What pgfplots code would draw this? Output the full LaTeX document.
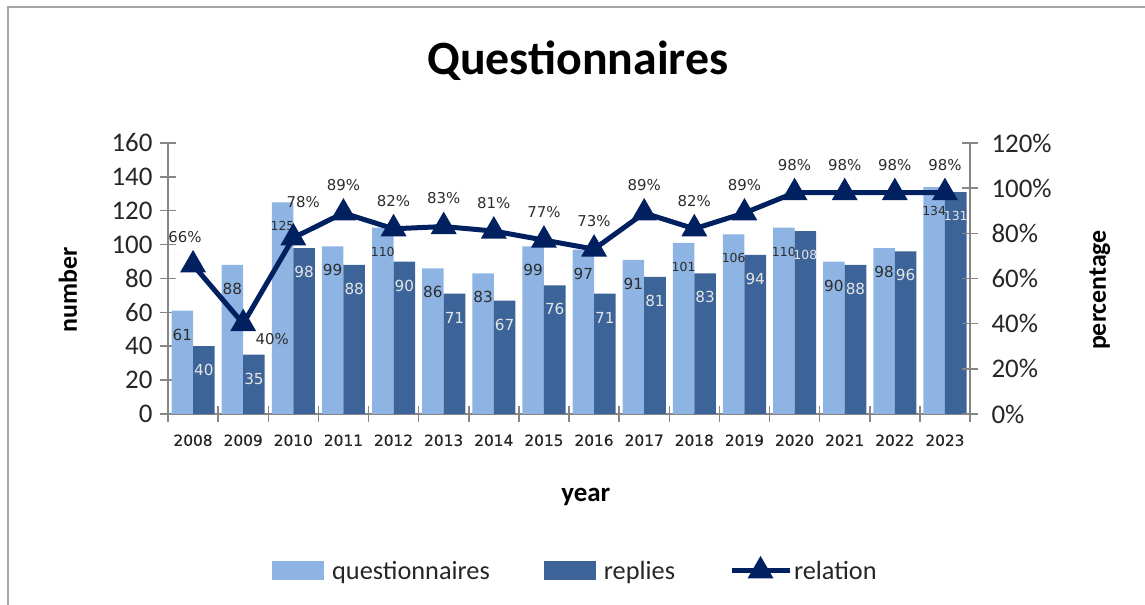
\documentclass[border=0pt]{standalone}
\usepackage{fontspec}
\setmainfont{Carlito}
\newfontfamily\dejavu{DejaVu Sans}
\newfontfamily\dejavuticks[FakeBold=0.5]{DejaVu Sans}
\usepackage{pgfplots}
\usepackage{pgfplotstable}
\pgfplotsset{compat=1.18}

\definecolor{lightbar}{RGB}{142,180,227}
\definecolor{darkbar}{RGB}{60,100,152}
\definecolor{navy}{RGB}{0,32,96}
\definecolor{axisgray}{RGB}{134,134,134}
\definecolor{txt}{RGB}{38,38,38}
\definecolor{lbl}{RGB}{45,45,45}

\pgfplotstableread{
x q r p
0 61 40 66
1 88 35 40
2 125 98 78
3 99 88 89
4 110 90 82
5 86 71 83
6 83 67 81
7 99 76 77
8 97 71 73
9 91 81 89
10 101 83 82
11 106 94 89
12 110 108 98
13 90 88 98
14 98 96 98
15 134 131 98
}\data

\newcommand{\barlabel}[1]{\dejavu\ifdim#1pt<99.5pt\fontsize{15.3}{16}\selectfont\else\fontsize{12.5}{13}\selectfont\fi\pgfmathprintnumber[fixed,precision=0]{#1}}

\begin{document}
\begin{tikzpicture}[x=1bp,y=1bp]
\useasboundingbox (0,0) rectangle (1145,605);
\draw[black!35, line width=1.5bp] (8,0) -- (8,598) -- (1145,598);

\begin{axis}[
  at={(168bp,191bp)}, anchor=south west,
  scale only axis, width=802bp, height=271bp,
  xmin=-0.5, xmax=15.5, ymin=0, ymax=160,
  ytick={0,20,...,160},
  xtick={0,...,15},
  xticklabels={2008,2009,2010,2011,2012,2013,2014,2015,2016,2017,2018,2019,2020,2021,2022,2023},
  minor xtick={-0.5,0.5,...,15.5},
  axis x line*=bottom, axis y line*=left,
  axis line style={axisgray, line width=1.5bp, -},
  tick align=center, major tick length=16bp, minor tick length=16bp,
  every major x tick/.append style={draw=none},
  every minor x tick/.append style={axisgray, line width=1.5bp},
  every major y tick/.append style={axisgray, line width=1.5bp},
  /pgf/number format/assume math mode=true,
  yticklabel style={font=\fontsize{27}{27}\selectfont, text=txt, xshift=-4bp},
  xticklabel style={font=\dejavuticks\fontsize{15.4}{16}\selectfont, text=txt, yshift=-9bp},
  title={Questionnaires},
  title style={font=\bfseries\fontsize{48}{50}\selectfont, at={(axis description cs:0.511,1.28)}, anchor=center},
  xlabel={year},
  xlabel style={font=\bfseries\fontsize{27}{28}\selectfont, at={(axis description cs:0.521,-0.306)}, anchor=center},
  ylabel={number},
  ylabel style={font=\bfseries\fontsize{26}{28}\selectfont, at={(axis description cs:-0.1247,0.4576)}, anchor=center},
  clip=false,
  legend columns=3,
  legend style={draw=none, fill=none, font=\fontsize{26.4}{28}\selectfont, text=txt,
    at={(axis description cs:0.508,-0.579)}, anchor=center,
    /tikz/every even column/.append style={column sep=52bp}},
]
\addplot[ybar, bar width=0.43, bar shift=-0.215, fill=lightbar, draw=none,
  area legend,
  legend image code/.code={\fill[lightbar] (-4bp,-9.5bp) rectangle (48bp,9.5bp); \path (54bp,0bp);},
  visualization depends on={rawy \as \rawy},
  nodes near coords={\barlabel{\rawy}},
  every node near coord/.append style={anchor=center, xshift=-10.78bp, yshift=-24bp, text=lbl}]
  table[x=x, y=q]{\data};
\addlegendentry{questionnaires}
\addplot[ybar, bar width=0.43, bar shift=0.215, fill=darkbar, draw=none,
  area legend,
  legend image code/.code={\fill[darkbar] (-4bp,-9.5bp) rectangle (48bp,9.5bp); \path (54bp,0bp);},
  visualization depends on={rawy \as \rawy},
  nodes near coords={\barlabel{\rawy}},
  every node near coord/.append style={anchor=center, xshift=10.78bp, yshift=-24bp, text=white!90!black}]
  table[x=x, y=r]{\data};
\addlegendentry{replies}
\addlegendimage{navy, line width=5bp,
  legend image code/.code={\draw[navy, line width=5bp, mark=triangle*, mark size=10bp, mark options={solid}, mark repeat=2, mark phase=2] plot coordinates {(-4bp,0bp)(25bp,0bp)(54bp,0bp)};}}
\addlegendentry{relation}
\end{axis}

\begin{axis}[
  at={(168bp,191bp)}, anchor=south west,
  scale only axis, width=802bp, height=271bp,
  xmin=-0.5, xmax=15.5, ymin=0, ymax=120,
  ytick={0,20,...,120},
  axis x line=none, axis y line*=right,
  axis line style={axisgray, line width=1.5bp, -},
  tick align=center, major tick length=16bp,
  every major y tick/.append style={axisgray, line width=1.5bp},
  /pgf/number format/assume math mode=true,
  yticklabel={\pgfmathprintnumber{\tick}\%},
  yticklabel style={font=\fontsize{27}{27}\selectfont, text=txt, xshift=10bp},
  ylabel={percentage},
  ylabel style={font=\bfseries\fontsize{26}{28}\selectfont, at={(axis description cs:1.162,0.4576)}, anchor=center},
  clip=false,
]
\addplot[navy, line width=5bp, mark=triangle*, mark size=10bp, mark options={solid},
  visualization depends on={rawy \as \rawy},
  nodes near coords={\pgfmathprintnumber[fixed,precision=0]{\rawy}\%},
  every node near coord/.append style={anchor=center, yshift=28bp, text=lbl, font=\dejavu\fontsize{15}{16}\selectfont},
  coordinate style/.condition={x==1}{xshift=29bp, yshift=-43bp},
  coordinate style/.condition={x==0}{xshift=-8bp},
  coordinate style/.condition={x==2}{xshift=10bp, yshift=8bp}]
  table[x=x, y=p]{\data};
\end{axis}
\end{tikzpicture}
\end{document}
